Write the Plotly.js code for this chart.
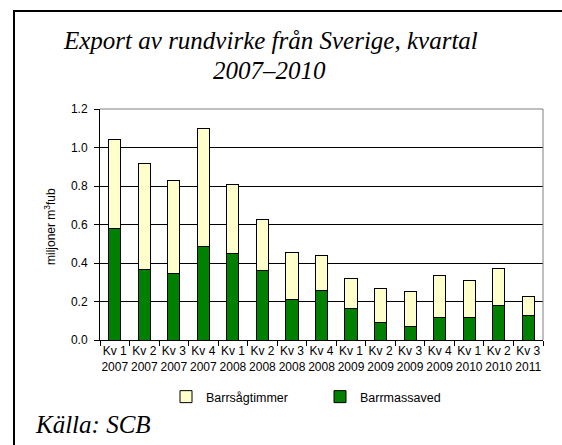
<!DOCTYPE html>
<html>
<head>
<meta charset="utf-8">
<script src="https://cdn.plot.ly/plotly-3.0.1.min.js"></script>
<style>
html,body{margin:0;padding:0;background:#fff;}
#chart{width:562px;height:445px;}
</style>
</head>
<body>
<div id="chart"></div>
<script>
var quarters = ["Kv 1<br>2007","Kv 2<br>2007","Kv 3<br>2007","Kv 4<br>2007",
                "Kv 1<br>2008","Kv 2<br>2008","Kv 3<br>2008","Kv 4<br>2008",
                "Kv 1<br>2009","Kv 2<br>2009","Kv 3<br>2009","Kv 4<br>2009",
                "Kv 1<br>2010","Kv 2<br>2010","Kv 3<br>2011"];
var barrmassaved   = [0.58, 0.367, 0.345, 0.487, 0.45, 0.362, 0.208, 0.258, 0.163, 0.092, 0.068, 0.119, 0.119, 0.18, 0.125];
var barrsagtimmer  = [0.463, 0.549, 0.483, 0.613, 0.357, 0.263, 0.247, 0.182, 0.157, 0.178, 0.183, 0.215, 0.189, 0.192, 0.102];
var yTicks = [0, 0.2, 0.4, 0.6, 0.8, 1.0, 1.2];

var W = 562, H = 445, ML = 100, MR = 19, MT = 109, MB = 105;
var PW = W - ML - MR, PH = H - MT - MB;
function px(x){ return (x - ML) / PW; }
function py(y){ return (H - MB - y) / PH; }

var serif = 'Liberation Serif, Times New Roman, serif';

var traces = [
  {type:'bar', name:'Barrmassaved', x:quarters, y:barrmassaved,
   marker:{color:'#008000', line:{color:'#000', width:1}}},
  {type:'bar', name:'Barrsågtimmer', x:quarters, y:barrsagtimmer,
   marker:{color:'#FFFFCC', line:{color:'#000', width:1}}}
];

var layout = {
  width:W, height:H,
  margin:{l:ML, r:MR, t:MT, b:MB, pad:0},
  paper_bgcolor:'#fff', plot_bgcolor:'#fff',
  barmode:'stack', bargap:0.59,
  font:{family:'Liberation Sans, Arial, sans-serif', size:12, color:'#000'},
  xaxis:{type:'category', tickson:'boundaries', ticks:'outside', ticklen:5, tickcolor:'#000',
         tickangle:0, showline:true, linecolor:'#000', linewidth:1, showgrid:false,
         tickfont:{size:12}, fixedrange:true},
  yaxis:{range:[0,1.2], tickvals:yTicks, tickformat:'.1f', ticks:'outside', ticklen:5, tickcolor:'#000',
         ticklabelstandoff:4,
         showline:true, linecolor:'#000', linewidth:1,
         showgrid:true, gridcolor:'#000', gridwidth:1, zeroline:false,
         tickfont:{size:12}, fixedrange:true},
  showlegend:true,
  legend:{orientation:'h', traceorder:'reversed', x:px(166), xanchor:'left', y:py(397), yanchor:'middle',
          font:{size:12.5}, itemwidth:30, entrywidth:109, bgcolor:'rgba(0,0,0,0)'},
  annotations:[
    {text:'Export av rundvirke från Sverige, kvartal', xref:'paper', yref:'paper', x:px(270.5), y:py(40),
     xanchor:'center', yanchor:'middle', showarrow:false,
     font:{family:serif, size:25, style:'italic', color:'#000'}},
    {text:'2007–2010', xref:'paper', yref:'paper', x:px(269), y:py(70),
     xanchor:'center', yanchor:'middle', showarrow:false,
     font:{family:serif, size:25, style:'italic', color:'#000'}},
    {text:'miljoner m<sup>3</sup>fub', xref:'paper', yref:'paper', x:px(50), y:py(227),
     xanchor:'center', yanchor:'middle', textangle:-90, showarrow:false, font:{size:12}},
    {text:'Källa: SCB', xref:'paper', yref:'paper', x:px(33), y:py(425), xanchor:'left', yanchor:'middle',
     showarrow:false, font:{family:serif, size:25, style:'italic', color:'#000'}}
  ],
  shapes:[
    {type:'line', xref:'paper', yref:'paper', x0:0, x1:1, y0:1, y1:1, line:{color:'#808080', width:1}, layer:'above'},
    {type:'line', xref:'paper', yref:'paper', x0:1, x1:1, y0:0, y1:1, line:{color:'#808080', width:1}, layer:'above'},
    {type:'line', xref:'paper', yref:'paper', x0:px(14), x1:px(14), y0:py(10), y1:py(460), line:{color:'#000', width:2}},
    {type:'line', xref:'paper', yref:'paper', x0:px(13), x1:px(580), y0:py(11), y1:py(11), line:{color:'#000', width:2}}
  ]
};

Plotly.newPlot('chart', traces, layout, {displayModeBar:false, staticPlot:true});
</script>
</body>
</html>
